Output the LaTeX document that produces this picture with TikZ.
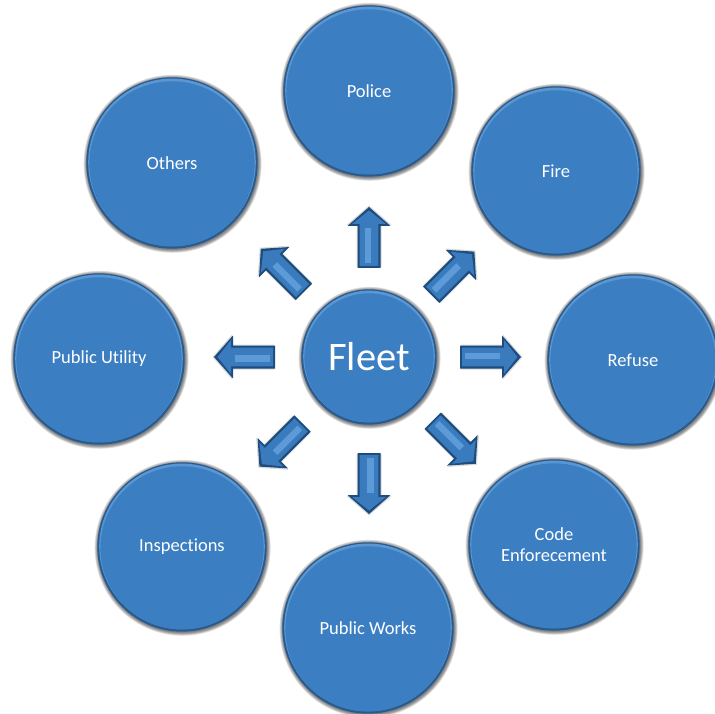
\documentclass[tikz,border=0pt]{standalone}
\usepackage{fontspec}
\setmainfont{Carlito}[Ligatures=NoCommon]
\usetikzlibrary{calc}

\definecolor{bubblebase}{HTML}{3B7EC2}
\definecolor{rimdark}{HTML}{2A5B8E}
\definecolor{rimlight}{HTML}{5A97D2}
\definecolor{arrowedge}{HTML}{1D4C7E}
\definecolor{arrowbody}{HTML}{3A7BBE}
\definecolor{arrowshine}{HTML}{5C9BD7}

\tikzset{
  bubblelabel/.style={circle, inner sep=0pt, text=white, align=center,
    font=\fontsize{18.5}{21}\selectfont},
  hublabel/.style={bubblelabel, font=\fontsize{40.5}{44}\selectfont},
}

% one glossy disc: soft shadow, dark rim, light top edge, flat face, label node
\newcommand\drawbubble[6]{%
  \foreach \k in {0,...,5}{
    \fill[black, opacity=0.10] ({#2+0.6},{#3+0.8}) circle ({#4+3-0.6*\k});
  }
  \fill[rimdark] (#2,#3) circle ({#4-0.3});
  \fill[rimlight] (#2,{#3-0.6}) circle ({#4-2.2});
  \fill[bubblebase] (#2,{#3+0.9}) circle ({#4-3.4});
  \node[#6, minimum size={2*#4}] (#1) at (#2,#3) {#5};
}

% bevelled block arrow leaving the hub at angle #1, tail at distance #2
\newcommand\drawblockarrow[2]{%
  \begin{scope}[shift={(fleet.center)}, rotate=#1]
    \fill[black, opacity=0.15] ({#2+1},-12.5) -- ({#2+43},-12.5) -- ({#2+43},-22.5)
      -- ({#2+62.5},0) -- ({#2+43},22.5) -- ({#2+43},12.5) -- ({#2+1},12.5) -- cycle;
    \fill[arrowedge] (#2,-11.5) -- ({#2+42},-11.5) -- ({#2+42},-21.5)
      -- ({#2+61},0) -- ({#2+42},21.5) -- ({#2+42},11.5) -- (#2,11.5) -- cycle;
    \fill[arrowbody] ({#2+2},-9.3) -- ({#2+44},-9.3) -- ({#2+44},-17)
      -- ({#2+57.5},0) -- ({#2+44},17) -- ({#2+44},9.3) -- ({#2+2},9.3) -- cycle;
    \fill[arrowshine] ({#2+5},-4.5) rectangle ({#2+40},2);
  \end{scope}%
}

\begin{document}
\begin{tikzpicture}[x=1pt, y=-1pt]
  \fill[white] (0,0) rectangle (715,714);
  \useasboundingbox (0,0) rectangle (715,714);

  % hub
  \drawbubble{fleet}{369}{357}{68}{Fleet}{hublabel}

  % surrounding services
  \drawbubble{police}{369}{91}{86}{Police}{bubblelabel}
  \drawbubble{fire}{556}{171}{85}{Fire}{bubblelabel}
  \drawbubble{refuse}{633}{360}{86}{Refuse}{bubblelabel}
  \drawbubble{code}{554}{545}{86}{Code\\Enforecement}{bubblelabel}
  \drawbubble{works}{368}{628}{86}{Public Works}{bubblelabel}
  \drawbubble{inspect}{182}{547}{85}{Inspections}{bubblelabel}
  \drawbubble{utility}{99}{359}{86}{Public Utility}{bubblelabel}
  \drawbubble{others}{172}{163}{86}{Others}{bubblelabel}

  % arrows from the hub outwards
  \drawblockarrow{90}{89}
  \drawblockarrow{45}{88}
  \drawblockarrow{0}{91}
  \drawblockarrow{-45}{90}
  \drawblockarrow{-90}{96}
  \drawblockarrow{-135}{94}
  \drawblockarrow{180}{94}
  \drawblockarrow{135}{92}
\end{tikzpicture}
\end{document}
